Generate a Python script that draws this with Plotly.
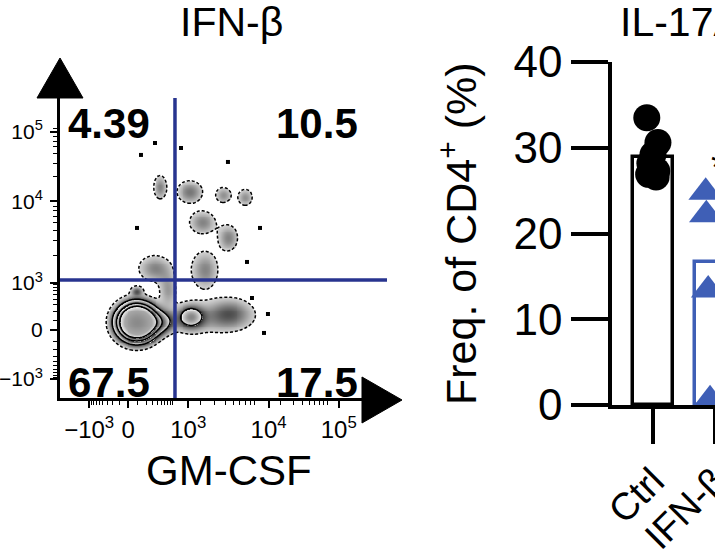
import numpy as np
import plotly.graph_objects as go

W, H = 715, 550
FONT = "Liberation Sans, Arial, Helvetica, sans-serif"
GATE_BLUE = "#28348f"
IFN_BLUE = "#3f5fb6"


def px(x):
    return x / W


def py(y):
    return 1 - y / H


# ---------------- Flow panel data (display units, ~1 unit per decade) ----------------
flow_title = "IFN-β"
flow_xlabel = "GM-CSF"
quad_pcts = ["4.39", "10.5", "67.5", "17.5"]  # UL, UR, LL, LR
gate_x = 0.0
gate_y = 0.0
flow_x_range = [-1.474, 2.718]
flow_y_range = [-1.513, 2.333]
flow_xtick_vals = [-1.10, -0.60, 0.17, 1.20, 2.10]
flow_xtick_text = ["−10<sup>3</sup>", "0", "10<sup>3</sup>", "10<sup>4</sup>", "10<sup>5</sup>"]
flow_ytick_vals = [-1.27, -0.64, -0.04, 1.01, 1.90]
flow_ytick_text = ["−10<sup>3</sup>", "0", "10<sup>3</sup>", "10<sup>4</sup>", "10<sup>5</sup>"]

# cell populations: centre (u, v), spread, relative density
#          core   bridge  mid   right  smear  notch  stalk  UL-low  UR-low  UR1   UR2   UR3   UR4   UR5   UL-up
pop_u = [-0.49, -0.21, 0.20, 0.70, 0.40, -0.49, -0.09, -0.26, 0.38, 0.19, 0.35, 0.62, 0.90, 0.68, -0.19]
pop_v = [-0.54, -0.54, -0.47, -0.42, -0.52, -0.14, -0.13, 0.15, 0.13, 1.13, 0.74, 1.09, 1.06, 0.54, 1.19]
pop_su = [0.14, 0.12, 0.11, 0.20, 0.40, 0.05, 0.08, 0.15, 0.125, 0.115, 0.12, 0.075, 0.07, 0.09, 0.06]
pop_sv = [0.13, 0.09, 0.10, 0.13, 0.15, 0.04, 0.15, 0.12, 0.175, 0.10, 0.105, 0.075, 0.08, 0.12, 0.11]
pop_w = [2.0, 0.22, 0.22, 0.11, 0.05, 0.12, 0.08, 0.10, 0.10, 0.11, 0.10, 0.09, 0.09, 0.10, 0.10]

# isolated events (outliers)
event_u = [-0.256, -0.436, 0.077, 0.679, -0.487, 1.090, 0.923, 0.987, 1.192, 1.141]
event_v = [1.756, 1.603, 1.692, 1.513, 0.667, 0.667, 0.231, -0.231, -0.436, -0.679]

contour_levels = [0.04, 0.16, 0.36, 0.60]

# ---------------- Bar panel data ----------------
bar_title = "IL-17A"
bar_cats = ["Ctrl", "IFN-β"]
bar_means = [28.9, 16.7]
ctrl_vals = [33.5, 30.6, 29.2, 28.2, 27.3, 26.9, 26.6]
ctrl_jit = [-0.10, 0.08, 0.0, -0.05, 0.06, -0.07, 0.05]
ifnb_vals = [24.8, 22.2, 13.4, 0.6, 20.5, 18.5]
ifnb_jit = [-0.15, -0.14, -0.11, -0.08, 0.10, 0.15]
bar_yticks = [0, 10, 20, 30, 40]

# ---------------- density grid ----------------
gu = np.linspace(flow_x_range[0], flow_x_range[1], 340)
gv = np.linspace(flow_y_range[0], flow_y_range[1], 320)
U, V = np.meshgrid(gu, gv)
Z = np.zeros_like(U)
for u, v, su, sv, w in zip(pop_u, pop_v, pop_su, pop_sv, pop_w):
    Z += w * np.exp(-0.5 * (((U - u) / su) ** 2 + ((V - v) / sv) ** 2))

zmax = float(Z.max()) * 1.001
L = contour_levels


def pos(z):
    return z / zmax


cs = [
    [0.0, "rgba(255,255,255,0)"], [pos(L[0]), "rgba(255,255,255,0)"],
    [pos(L[0]), "#d4d4d4"], [pos(L[0] + 0.5 * (L[1] - L[0])), "#848484"], [pos(L[1]), "#363636"],
    [pos(L[1]), "#f6f6f6"], [pos(L[1] + 0.5 * (L[2] - L[1])), "#8c8c8c"], [pos(L[2]), "#3c3c3c"],
    [pos(L[2]), "#f4f4f4"], [pos(L[2] + 0.5 * (L[3] - L[2])), "#8c8c8c"], [pos(L[3]), "#404040"],
    [pos(L[3]), "#eeeeee"], [pos(1.0), "#a8a8a8"], [1.0, "#8a8a8a"],
]

fig = go.Figure()

fig.add_trace(go.Heatmap(x=gu, y=gv, z=Z, zmin=0, zmax=zmax, zsmooth="best",
                         colorscale=cs, showscale=False, hoverinfo="skip",
                         xaxis="x", yaxis="y"))
for i, lev in enumerate(contour_levels):
    fig.add_trace(go.Contour(x=gu, y=gv, z=Z, showscale=False, hoverinfo="skip",
                             contours=dict(start=lev, end=lev, size=1, coloring="none"),
                             line=dict(color="black", width=1.5,
                                       dash="3px,2px" if i == 0 else "solid"),
                             xaxis="x", yaxis="y"))
fig.add_trace(go.Scatter(x=event_u, y=event_v, mode="markers",
                         marker=dict(symbol="square", size=4, color="black"),
                         hoverinfo="skip", xaxis="x", yaxis="y"))

# bars
bar_line_colors = ["black", IFN_BLUE]
for i, (m, lc) in enumerate(zip(bar_means, bar_line_colors)):
    fig.add_trace(go.Bar(x=[i], y=[m], width=0.63,
                         marker=dict(color="white", line=dict(color=lc, width=3.5)),
                         hoverinfo="skip", xaxis="x2", yaxis="y2"))
fig.add_trace(go.Scatter(x=[0 + j for j in ctrl_jit], y=ctrl_vals, mode="markers",
                         marker=dict(symbol="circle", size=27, color="black"),
                         cliponaxis=False, hoverinfo="skip", xaxis="x2", yaxis="y2"))
fig.add_trace(go.Scatter(x=[1 + j for j in ifnb_jit], y=ifnb_vals, mode="markers",
                         marker=dict(symbol="triangle-up", size=30, color=IFN_BLUE),
                         cliponaxis=False, hoverinfo="skip", xaxis="x2", yaxis="y2"))


# minor ticks for flow axes
def minor_ticks(d_lo, d_hi, zero, minus):
    vals = []
    for m in range(2, 10):
        vals.append(0 + np.log10(m) * d_lo)
        vals.append(d_lo + np.log10(m) * (d_hi - d_lo))
    k = (0 - zero) / np.arcsinh(5)
    k2 = (zero - minus) / np.arcsinh(5)
    for n in range(1, 10):
        vals.append(zero + k * np.arcsinh(n * 100 / 200))
        vals.append(zero - k2 * np.arcsinh(n * 100 / 200))
    return sorted(vals)


x_minor = minor_ticks(1.07, 2.0, -0.60, -1.12)
y_minor = minor_ticks(1.05, 1.99, -0.66, -1.28)

fig.update_layout(
    width=W, height=H, margin=dict(l=0, r=0, t=0, b=0, autoexpand=False),
    paper_bgcolor="white", plot_bgcolor="white", showlegend=False, hovermode=False,
    font=dict(family=FONT, color="black"),
    bargap=0,
    xaxis=dict(domain=[px(60), px(387)], range=flow_x_range, anchor="y", automargin=False,
               showgrid=False, zeroline=False, showline=True, linecolor="black", linewidth=3,
               ticks="outside", ticklen=7, tickwidth=2, tickcolor="black",
               tickvals=flow_xtick_vals, ticktext=flow_xtick_text,
               tickfont=dict(size=24, family=FONT), ticklabelstandoff=1,
               minor=dict(tickvals=x_minor, ticks="outside", ticklen=4, tickwidth=1.3, tickcolor="black")),
    yaxis=dict(domain=[py(398), py(98)], range=flow_y_range, anchor="x", automargin=False,
               showgrid=False, zeroline=False, showline=True, linecolor="black", linewidth=3,
               ticks="outside", ticklen=7, tickwidth=2, tickcolor="black",
               tickvals=flow_ytick_vals, ticktext=flow_ytick_text,
               tickfont=dict(size=21, family=FONT), ticklabelstandoff=3,
               minor=dict(tickvals=y_minor, ticks="outside", ticklen=4, tickwidth=1.3, tickcolor="black")),
    xaxis2=dict(domain=[px(612), 1.0], range=[-0.661, 1.0], anchor="y2", automargin=False,
                showgrid=False, zeroline=False, showline=True, linecolor="black", linewidth=3.5,
                ticks="outside", ticklen=35, tickwidth=3.5, tickcolor="black",
                tickvals=[0, 1], ticktext=bar_cats, tickangle=-45, ticklabeloverflow="allow",
                tickfont=dict(size=38, family=FONT)),
    yaxis2=dict(domain=[py(405), py(62)], range=[0, 40], anchor="x2", automargin=False,
                showgrid=False, zeroline=False, showline=True, linecolor="black", linewidth=3.5,
                ticks="outside", ticklen=37, tickwidth=3.5, tickcolor="black",
                tickvals=bar_yticks, tickfont=dict(size=44, family=FONT), ticklabelstandoff=0),
)


# axis arrows (flow panel)
def tri(points):
    p = "M " + " L ".join(f"{px(x):.5f},{py(y):.5f}" for x, y in points) + " Z"
    return dict(type="path", xref="paper", yref="paper", path=p,
                fillcolor="black", line=dict(color="black", width=1), layer="above")


shapes = [
    tri([(37, 98), (83, 98), (60, 58)]),
    tri([(362, 377), (362, 423), (402, 400)]),
    dict(type="line", xref="x", yref="y domain", x0=gate_x, x1=gate_x, y0=0, y1=1,
         line=dict(color=GATE_BLUE, width=3.5), layer="above"),
    dict(type="line", xref="x domain", yref="y", x0=0, x1=1, y0=gate_y, y1=gate_y,
         line=dict(color=GATE_BLUE, width=3.5), layer="above"),
]
fig.update_layout(shapes=shapes)

ann = []


def add_text(text, x, y, size, xanchor="center", yanchor="middle", bold=False, angle=0):
    t = f"<b>{text}</b>" if bold else text
    ann.append(dict(text=t, x=px(x), y=py(y), xref="paper", yref="paper",
                    xanchor=xanchor, yanchor=yanchor, showarrow=False, textangle=angle,
                    font=dict(size=size, family=FONT, color="black")))


add_text(flow_title, 231, 22, 41)
add_text(flow_xlabel, 229, 470, 42)
add_text(quad_pcts[0], 66, 123, 42, xanchor="left", bold=True)
add_text(quad_pcts[1], 360, 123, 42, xanchor="right", bold=True)
add_text(quad_pcts[2], 66, 382, 42, xanchor="left", bold=True)
add_text(quad_pcts[3], 360, 382, 42, xanchor="right", bold=True)
add_text(bar_title, 618, 22, 41, xanchor="left")
add_text("Freq. of CD4<sup>+</sup> (%)", 458, 234, 43, angle=-90)
add_text("*", 719, 167, 40)
fig.update_layout(annotations=ann)

fig.write_html("out.html")
